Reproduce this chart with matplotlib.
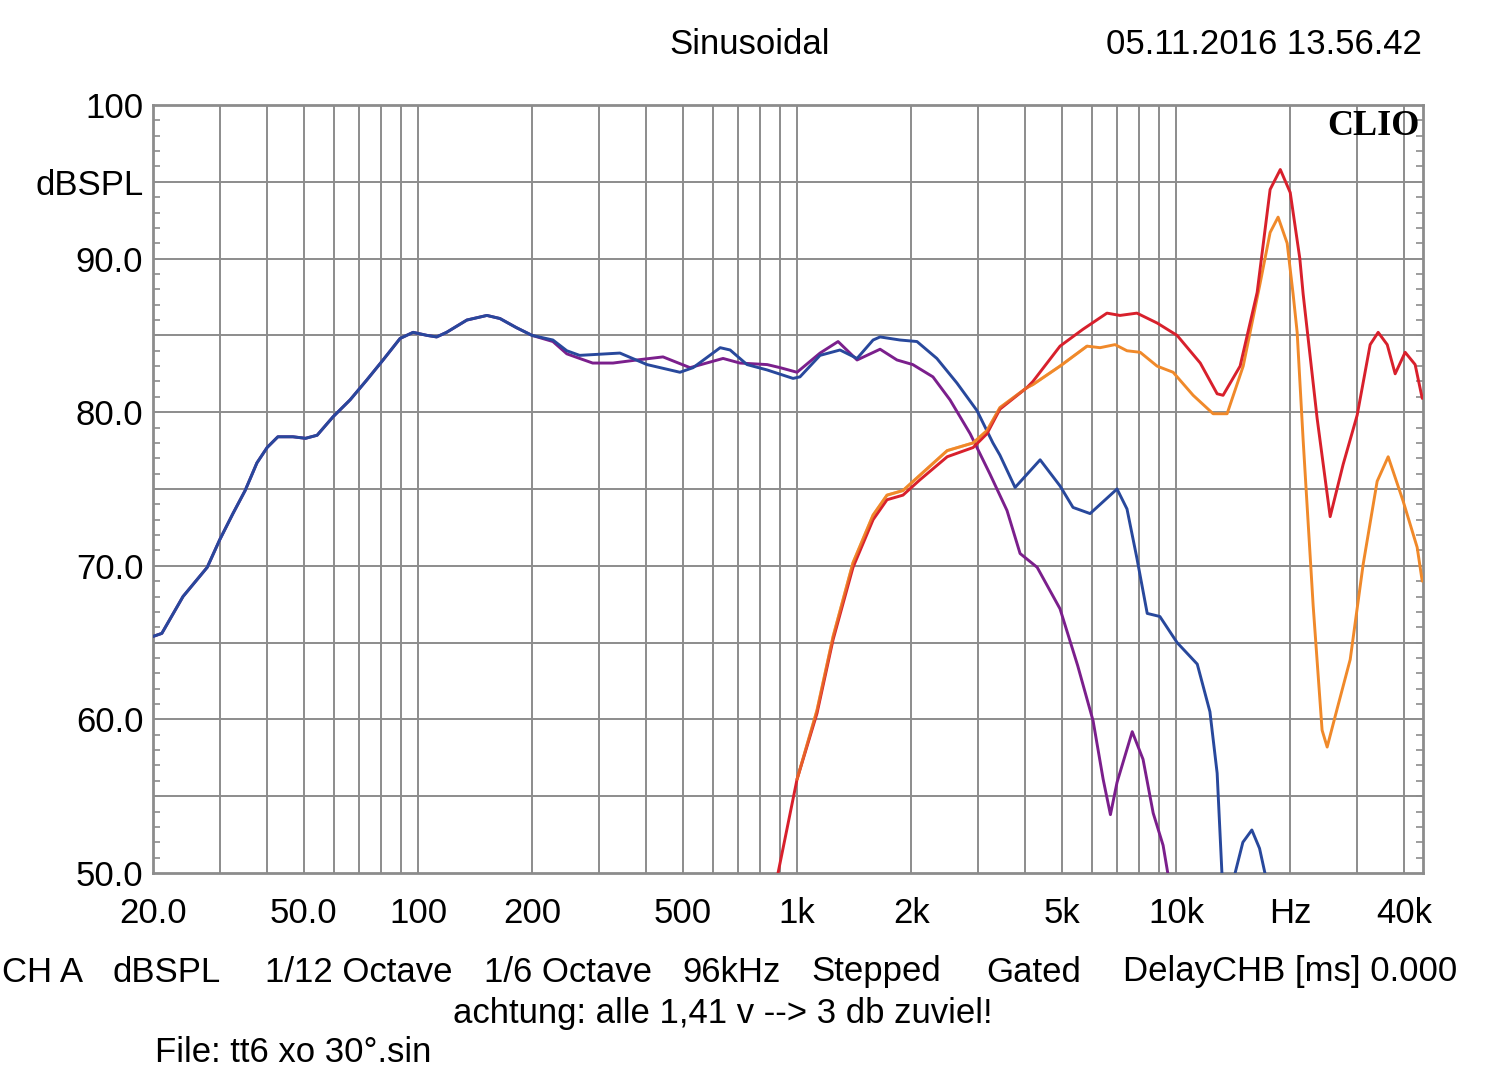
import numpy as np
import matplotlib
matplotlib.use('Agg')
import matplotlib.pyplot as plt
from matplotlib.ticker import FixedLocator, FixedFormatter, MultipleLocator

plt.rcParams['font.family'] = ['Liberation Sans', 'DejaVu Sans']

#curve data (Hz, dBSPL)
blue_f = [20, 21.1, 24.0, 27.8, 30, 32.5, 35, 37.6, 40, 42.7, 46.8, 50.5, 54.2, 59.7, 66.2,
          73.3, 80.9, 89.7, 97.1, 105.7, 112, 119, 134.6, 152, 164.5, 182, 200, 227, 247,
          267, 341, 402, 491, 532, 627, 666, 738, 834, 976, 1018, 1150, 1298, 1440, 1587,
          1656, 1869, 2072, 2338, 2641, 2984, 3286, 3430, 3760, 4378, 4940, 5346, 5930,
          6985, 7420, 7880, 8390, 9060, 10060, 11370, 12280, 12830, 13220, 13600]
blue_db = [65.4, 65.6, 68.0, 69.9, 71.7, 73.4, 74.9, 76.7, 77.7, 78.4, 78.4, 78.3, 78.5, 79.7, 80.8,
           82.1, 83.4, 84.8, 85.2, 85.0, 84.9, 85.2, 86.0, 86.3, 86.1, 85.5, 85.0, 84.7, 84.0,
           83.7, 83.85, 83.1, 82.6, 82.9, 84.2, 84.05, 83.1, 82.75, 82.2, 82.3, 83.7, 84.05, 83.5, 84.7,
           84.9, 84.7, 84.6, 83.5, 81.9, 80.1, 78.0, 77.2, 75.1, 76.9, 75.2, 73.8, 73.4,
           75.0, 73.7, 70.5, 66.9, 66.7, 65.0, 63.6, 60.5, 56.5, 49.8, 47.0]
blue2_f = [13900, 14310, 15000, 15840, 16600, 17150, 17600]
blue2_db = [47.5, 50.0, 52.0, 52.8, 51.6, 50.0, 47.5]

purple_f = [20, 21.1, 24.0, 27.8, 30, 32.5, 35, 37.6, 40, 42.7, 46.8, 50.5, 54.2, 59.7, 66.2,
            73.3, 80.9, 89.7, 97.1, 105.7, 112, 119, 134.6, 152, 164.5, 182, 200, 227, 247,
            267, 289, 327, 378, 443, 522, 638, 707, 834, 902, 1000, 1150, 1283, 1440, 1656,
            1835, 2020, 2283, 2533, 2862, 3224, 3580, 3876, 4300, 4940, 5500, 6040, 6420,
            6710, 6985, 7660, 8180, 8700, 9240, 9520, 9800]
purple_db = [65.4, 65.6, 68.0, 69.9, 71.7, 73.4, 74.9, 76.7, 77.7, 78.4, 78.4, 78.3, 78.5, 79.7, 80.8,
             82.1, 83.4, 84.8, 85.2, 85.0, 84.9, 85.2, 86.0, 86.3, 86.1, 85.5, 85.0, 84.6, 83.8,
             83.5, 83.2, 83.2, 83.4, 83.6, 82.9, 83.5, 83.2, 83.1, 82.9, 82.6, 83.85, 84.6, 83.4, 84.1,
             83.4, 83.1, 82.3, 80.8, 78.6, 76.0, 73.6, 70.8, 69.9, 67.2, 63.5, 59.9, 56.1,
             53.8, 55.9, 59.2, 57.4, 53.9, 51.8, 49.9, 48.0]

red_f = [870, 891, 1000, 1129, 1245, 1405, 1587, 1727, 1903, 2110, 2490, 2914, 3170, 3430,
         4040, 4190, 4940, 5680, 6570, 7110, 7880, 8920, 10060, 11580, 12830, 13300, 14750,
         16360, 17700, 18830, 20000, 21200, 21630, 23550, 25490, 27580, 30030, 32500, 34120,
         36050, 37830, 40200, 42710, 44590]
red_db = [48.5, 50.0, 56.1, 60.4, 65.2, 69.9, 73.0, 74.3, 74.6, 75.6, 77.1, 77.7, 78.6, 80.2,
          81.6, 82.0, 84.3, 85.4, 86.45, 86.3, 86.45, 85.8, 85.0, 83.2, 81.2, 81.1, 83.0,
          87.8, 94.5, 95.8, 94.3, 90.0, 87.7, 79.6, 73.2, 76.6, 79.8, 84.4, 85.2,
          84.4, 82.5, 83.9, 83.1, 80.9]

orange_f = [1000, 1129, 1245, 1405, 1587, 1727, 1903, 2110, 2490, 2914, 3170, 3430, 4040, 4190,
            4940, 5820, 6300, 6900, 7420, 8040, 8910, 9820, 11090, 12520, 13630, 15030, 16660,
            17700, 18580, 19630, 20350, 20860, 21630, 22990, 24270, 25030, 26600, 28790, 31150,
            33910, 36260, 39720, 43240, 44590]
orange_db = [56.1, 60.6, 65.4, 70.2, 73.3, 74.6, 74.9, 75.9, 77.5, 78.0, 78.8, 80.3, 81.6, 81.8,
             83.0, 84.3, 84.2, 84.4, 84.0, 83.9, 83.0, 82.6, 81.1, 79.9, 79.9, 83.0, 88.4,
             91.7, 92.7, 91.0, 87.7, 85.2, 78.2, 67.4, 59.3, 58.2, 60.7, 63.9, 70.1,
             75.5, 77.1, 74.2, 71.2, 69.0]

xtick_vals = [20, 50, 100, 200, 500, 1000, 2000, 5000, 10000, 20000, 40000]
xtick_labels = ['20.0', '50.0', '100', '200', '500', '1k', '2k', '5k', '10k', 'Hz', '40k']
ytick_vals = [50, 60, 70, 80, 90, 95, 100]
ytick_labels = ['50.0', '60.0', '70.0', '80.0', '90.0', 'dBSPL', '100']

W, H = 1500, 1086
fig = plt.figure(figsize=[15, 10.86], dpi=100)
ax = fig.add_axes([153/W, 1-873/H, (1423-153)/W, (873-105)/H])

gcol = '#8c8c8c'
#grid lines at every 1-2-3.. step of each decade
vgrid = [v*m for m in [10, 100, 1000, 10000] for v in range(1, 10)]
vgrid = [v for v in vgrid if 20 <= v <= 40000]
for v in vgrid:
    ax.axvline(v, color=gcol, lw=1.4, zorder=1)
for h in range(55, 100, 5):
    ax.axhline(h, color=gcol, lw=1.4, zorder=1)

lw = 2.1
kw = dict(lw=lw, solid_joinstyle='round', solid_capstyle='round')
ax.plot(purple_f, purple_db, color='#7b1f8c', zorder=3, **kw)
ax.plot(blue_f, blue_db, color='#28489c', zorder=4, **kw)
ax.plot(blue2_f, blue2_db, color='#28489c', zorder=4, **kw)
ax.plot(orange_f, orange_db, color='#f0892a', zorder=5, **kw)
ax.plot(red_f, red_db, color='#d8202c', zorder=6, **kw)
ax.plot(orange_f[:16], orange_db[:16], color='#f0892a', zorder=7, alpha=0.6, **kw)

ax.set_xscale('log')
ax.set_xlim(20, 44800)
ax.set_ylim(50, 100)

ax.xaxis.set_major_locator(FixedLocator(xtick_vals))
ax.xaxis.set_major_formatter(FixedFormatter(xtick_labels))
ax.xaxis.set_minor_locator(FixedLocator([]))
ax.yaxis.set_major_locator(FixedLocator(ytick_vals))
ax.yaxis.set_major_formatter(FixedFormatter(ytick_labels))
ax.yaxis.set_minor_locator(MultipleLocator(1))

fs = 25
ax.tick_params(axis='x', which='major', length=0, pad=17, labelsize=fs)
ax.tick_params(axis='y', which='major', length=0, pad=7, labelsize=fs)
ax.tick_params(axis='y', which='minor', direction='in', length=5, width=1.2,
               color=gcol, left=True, right=True)

for s in ax.spines.values():
    s.set_color(gcol)
    s.set_linewidth(2)

ax.text(0.997, 0.993, 'CLIO', transform=ax.transAxes, ha='right', va='top',
        fontsize=26, fontweight='bold', family='Liberation Serif', zorder=10)

fig.text(750/W, 1-45/H, 'Sinusoidal', ha='center', va='center', fontsize=fs)
fig.text(1422/W, 1-45/H, '05.11.2016 13.56.42', ha='right', va='center', fontsize=fs)

#bottom info line
info = [(2, 'CH A'), (113, 'dBSPL'), (265, '1/12 Octave'), (484, '1/6 Octave'),
        (682, '96kHz'), (811, 'Stepped'), (986, 'Gated'), (1123, 'DelayCHB [ms] 0.000')]
for x, t in info:
    fig.text(x/W, 1-972/H, t, ha='left', va='center', fontsize=fs)
fig.text(723/W, 1-1013/H, 'achtung: alle 1,41 v --> 3 db zuviel!', ha='center', va='center', fontsize=fs)
fig.text(155/W, 1-1052/H, 'File: tt6 xo 30°.sin', ha='left', va='center', fontsize=fs)

fig.savefig('out.png', dpi=100)
